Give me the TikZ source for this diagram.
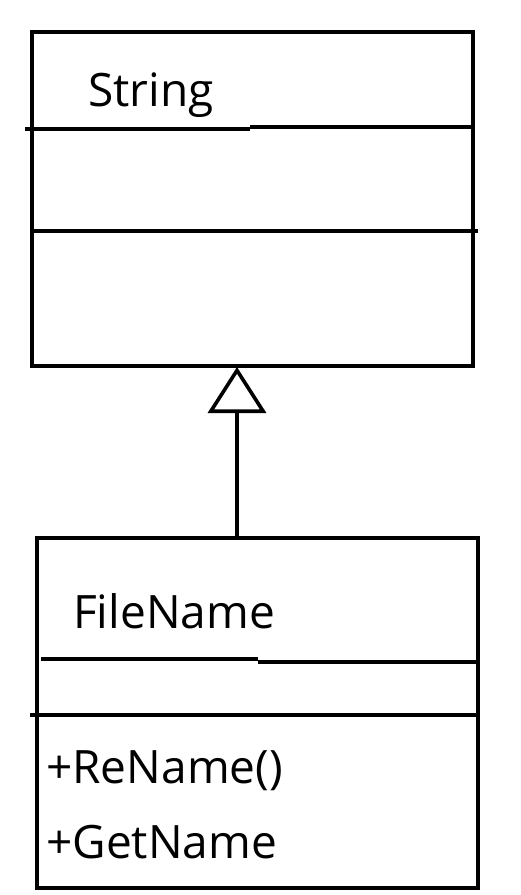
\documentclass[tikz,border=0pt]{standalone}
\usepackage{fontspec}
\setmainfont{Open Sans}
\usetikzlibrary{arrows.meta}
\tikzset{
  classbox/.style={draw, line width=3.6pt, rectangle, inner sep=0pt},
  sepline/.style={line width=3.6pt},
  label/.style={anchor=base west, inner sep=0pt, font=\fontsize{46}{50}\selectfont},
  inherit/.style={line width=3.6pt, -{Triangle[open, length=46pt, width=58pt]}}
}
\begin{document}
\begin{tikzpicture}[x=1pt, y=-1pt]
\useasboundingbox (0,0) rectangle (521,895);

\node[classbox, minimum width=441pt, minimum height=334pt] (string) at (252.5,199) {};
\node[classbox, minimum width=441pt, minimum height=350pt] (filename) at (257.5,713) {};

% compartments of String
\draw[sepline] (25,129) -- (250,129);
\draw[sepline] (250,127) -- (string.east |- 0,127);
\draw[sepline] (string.west |- 0,231) -- (478,231);

% compartments of FileName
\draw[sepline] (41,659) -- (258,659);
\draw[sepline] (258,662) -- (filename.east |- 0,662);
\draw[sepline] (30,715) -- (filename.east |- 0,715);

\node[label] (stringname) at (88,106) {String};
\node[label] (filenamename) at (73,628) {FileName};
\node[label] (rename) at (46,783) {+ReName()};
\node[label] (getname) at (46,858) {+GetName};

% generalisation
\coordinate (tip) at (237,367);
\draw[inherit] (tip |- filename.north) -- (tip);
\end{tikzpicture}
\end{document}
